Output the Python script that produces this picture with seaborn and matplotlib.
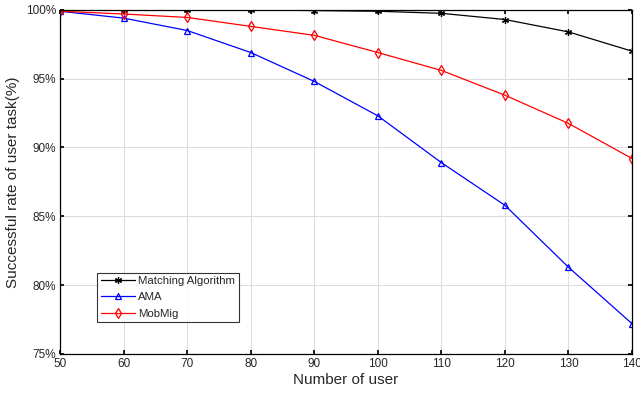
import numpy as np
import pandas as pd
import matplotlib
matplotlib.use("Agg")
import matplotlib.pyplot as plt
import seaborn as sns

users = [50, 60, 70, 80, 90, 100, 110, 120, 130, 140]
matching = [100.0, 100.0, 100.0, 100.0, 99.95, 99.9, 99.75, 99.3, 98.4, 97.0]
ama = [99.9, 99.4, 98.5, 96.9, 94.8, 92.3, 88.9, 85.8, 81.3, 77.2]
mobmig = [99.9, 99.7, 99.45, 98.8, 98.15, 96.9, 95.6, 93.8, 91.75, 89.2]

y_ticks = [75, 80, 85, 90, 95, 100]
x_ticks = users

sns.set_theme(style="whitegrid")
plt.rcParams['font.family'] = ['Liberation Sans', 'DejaVu Sans']

fig = plt.figure(figsize=(6.4, 3.95), dpi=100)
ax = fig.add_axes([0.094, 0.104, 0.8935, 0.871])

series = [
    ("Matching Algorithm", matching, "black", (6, 2, 0), 5, "black"),
    ("AMA", ama, "blue", "^", 5, "none"),
    ("MobMig", mobmig, "red", "d", 5.5, "none"),
]
for name, vals, color, marker, ms, fc in series:
    df = pd.DataFrame({"users": users, "rate": vals})
    sns.lineplot(data=df, x="users", y="rate", ax=ax, color=color, marker=marker,
                 markersize=ms, markerfacecolor=fc, markeredgecolor=color,
                 markeredgewidth=0.9, linewidth=0.9, label=name)

ax.set_xlim(50, 140)
ax.set_ylim(75, 100)
ax.set_xticks(x_ticks)
ax.set_yticks(y_ticks)
ax.set_yticklabels([f"{t}%" for t in y_ticks])
ax.tick_params(axis='both', labelsize=8.5, direction='in', length=3,
               color='black', pad=3, top=True, right=True,
               bottom=True, left=True)
ax.grid(True, color='#dddddd', linewidth=0.8)
ax.set_facecolor('white')
for s in ax.spines.values():
    s.set_color('black')
    s.set_linewidth(0.9)

ax.set_xlabel("Number of user", fontsize=11, labelpad=2)
ax.set_ylabel("Successful rate of user task(%)", fontsize=11, labelpad=4)

leg = ax.legend(loc='lower left', bbox_to_anchor=(0.065, 0.093), fontsize=8.2,
                frameon=True, fancybox=False, borderpad=0.3, labelspacing=0.55,
                handlelength=3.0, handletextpad=0.3, borderaxespad=0)
leg.get_frame().set_edgecolor('black')
leg.get_frame().set_linewidth(0.8)

fig.savefig("out.png", dpi=100)
